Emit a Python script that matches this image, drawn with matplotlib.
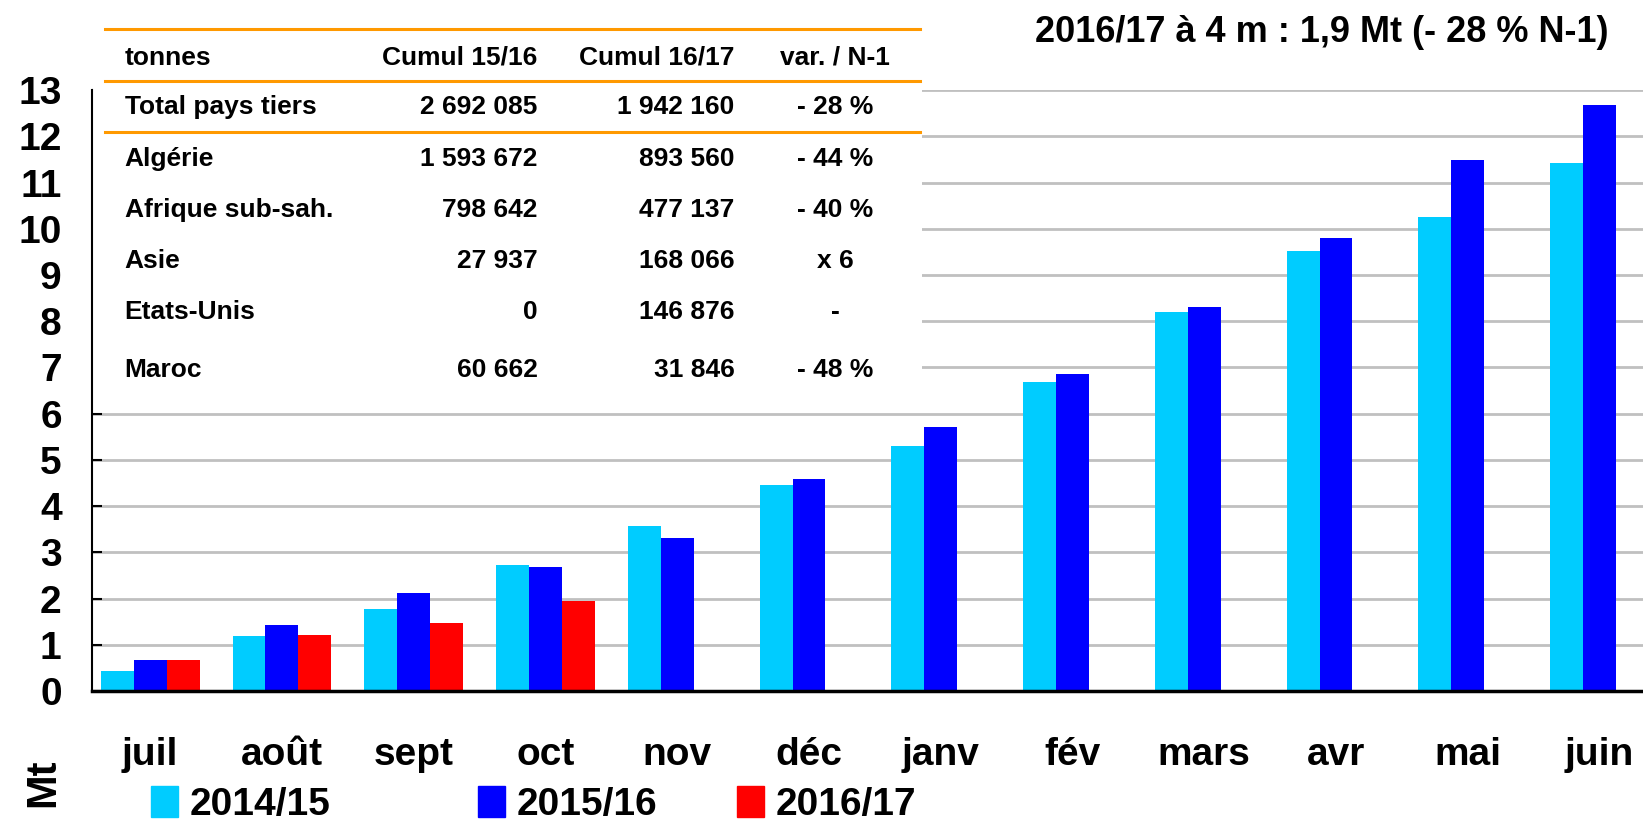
import numpy as np
import matplotlib
matplotlib.use("Agg")
import matplotlib.pyplot as plt
from matplotlib.patches import Rectangle, Patch
from matplotlib.lines import Line2D

plt.rcParams['font.family'] = ['Liberation Sans', 'DejaVu Sans']
plt.rcParams['font.weight'] = 'bold'

# cumulative exports, Mt
months = ['juil', 'août', 'sept', 'oct', 'nov', 'déc',
          'janv', 'fév', 'mars', 'avr', 'mai', 'juin']
s1415 = [0.43, 1.18, 1.77, 2.72, 3.56, 4.45, 5.31, 6.69, 8.19, 9.53, 10.25, 11.43]
s1516 = [0.68, 1.43, 2.11, 2.69, 3.31, 4.58, 5.72, 6.85, 8.30, 9.80, 11.48, 12.68]
s1617 = [0.68, 1.22, 1.47, 1.94]
season_labels = ['2014/15', '2015/16', '2016/17']
colors = ['#00CCFF', '#0000FF', '#FF0000']

# summary table
tbl_header = ['tonnes', 'Cumul 15/16', 'Cumul 16/17', 'var. / N-1']
tbl_rows = ['Total pays tiers', 'Algérie', 'Afrique sub-sah.', 'Asie', 'Etats-Unis', 'Maroc']
tbl_1516 = ['2 692 085', '1 593 672', '798 642', '27 937', '0', '60 662']
tbl_1617 = ['1 942 160', '893 560', '477 137', '168 066', '146 876', '31 846']
tbl_var = ['- 28 %', '- 44 %', '- 40 %', 'x 6', '-', '- 48 %']

title = '2016/17 à 4 m : 1,9 Mt (- 28 % N-1)'

W, H = 1568, 784  # layout grid in pixels


def fx(px):
    return px / W


def fy(py):
    return 1 - py / H


fig = plt.figure(figsize=(16.43, 8.22), dpi=100)
ax = fig.add_axes([fx(88), fy(659), 1 - fx(88), fy(86) - fy(659)])

x = np.arange(len(months))
w = 0.25
ax.bar(x - w, s1415, w, color=colors[0], zorder=2)
ax.bar(x, s1516, w, color=colors[1], zorder=2)
ax.bar(x[:len(s1617)] + w, s1617, w, color=colors[2], zorder=2)

ax.set_xlim(-0.44, 11.33)
ax.set_ylim(0, 13)
ax.set_yticks(range(0, 14))
ax.yaxis.grid(True, color='#C0C0C0', linewidth=2)
ax.set_axisbelow(True)
for s in ['top', 'right']:
    ax.spines[s].set_visible(False)
ax.spines['left'].set_linewidth(1.5)
ax.spines['bottom'].set_linewidth(2.5)
ax.tick_params(axis='y', direction='in', length=7, width=1.5, labelsize=28, pad=22)
ax.tick_params(axis='x', length=0, labelsize=28, pad=33)
ax.set_xticks(x)
ax.set_xticklabels(months)

# white panel behind the table
ax.add_patch(Rectangle((fx(89), fy(375)), fx(880) - fx(89), fy(20) - fy(375),
                       transform=fig.transFigure, facecolor='white',
                       edgecolor='none', zorder=1.5, clip_on=False))

for yy in [28, 77, 126]:
    fig.add_artist(Line2D([fx(100), fx(878)], [fy(yy), fy(yy)],
                          color='#FF9900', linewidth=2.2, zorder=3))

fs = 19
row_y = [102, 152, 200, 249, 298, 353]
fig.text(fx(119), fy(55), tbl_header[0], fontsize=fs, va='center', ha='left')
fig.text(fx(513), fy(55), tbl_header[1], fontsize=fs, va='center', ha='right')
fig.text(fx(701), fy(55), tbl_header[2], fontsize=fs, va='center', ha='right')
fig.text(fx(797), fy(55), tbl_header[3], fontsize=fs, va='center', ha='center')
for i, yy in enumerate(row_y):
    fig.text(fx(119), fy(yy), tbl_rows[i], fontsize=fs, va='center', ha='left')
    fig.text(fx(513), fy(yy), tbl_1516[i], fontsize=fs, va='center', ha='right')
    fig.text(fx(701), fy(yy), tbl_1617[i], fontsize=fs, va='center', ha='right')
    fig.text(fx(797), fy(yy), tbl_var[i], fontsize=fs, va='center', ha='center')

fig.text(fx(1535), fy(31), title, fontsize=26, va='center', ha='right')

fig.text(fx(41), fy(747), 'Mt', fontsize=30, rotation=90, va='center', ha='center')

# legend entries, one per season, spaced as in the layout
legend_x = [144, 456, 703]
for c, lab, lx in zip(colors, season_labels, legend_x):
    fig.legend([Patch(color=c)], [lab], loc='center left',
               bbox_to_anchor=(fx(lx), fy(767)), frameon=False, fontsize=28,
               handlelength=0.7, handleheight=0.85, handletextpad=0.3,
               borderpad=0, borderaxespad=0)

fig.savefig('out.png', dpi=100)
